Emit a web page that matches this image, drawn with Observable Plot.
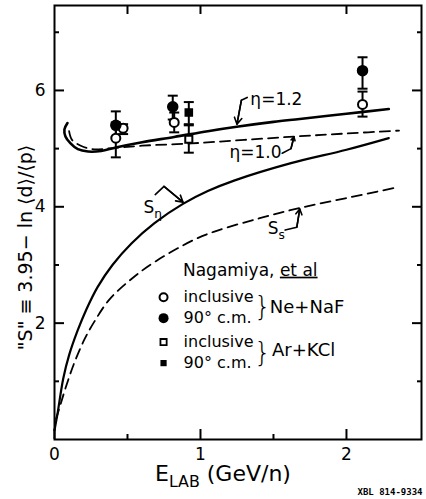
<!DOCTYPE html>
<html><head><meta charset="utf-8">
<script src="https://cdn.jsdelivr.net/npm/d3@7"></script>
<script src="https://cdn.jsdelivr.net/npm/@observablehq/plot@0.6"></script>
<style>
body{margin:0;background:#fff;}
#chart{width:426px;height:499px;}
</style>
</head><body><div id="chart"></div>
<script>
// ---- curves: E_LAB (GeV/n) vs "S"
const eta12E = [0.089,0.068,0.075,0.11,0.16,0.23,0.32,0.42,0.6,0.82,1.05,1.26,1.5,1.68,2.0,2.29];
const eta12S = [5.44,5.33,5.21,5.09,4.99,4.95,4.96,5.02,5.11,5.2,5.3,5.38,5.46,5.51,5.6,5.68];
const eta10E = [0.1,0.12,0.18,0.26,0.4,0.6,0.94,1.3,1.66,2.0,2.36];
const eta10S = [5.3,5.15,5.05,4.99,5.01,5.05,5.09,5.15,5.21,5.26,5.31];
const sEtaE = [0,0.021,0.06,0.1,0.158,0.219,0.295,0.397,0.527,0.685,0.88,1.05,1.23,1.62,2.0,2.29];
const sEtaS = [0.16,0.45,1.05,1.45,1.87,2.24,2.62,3.0,3.37,3.72,4.05,4.27,4.45,4.75,4.98,5.18];
const sSE = [0.01,0.041,0.075,0.133,0.205,0.274,0.377,0.527,0.685,0.945,1.09,1.4,1.68,2.0,2.34];
const sSS = [0.35,0.6,0.88,1.3,1.72,2.03,2.41,2.76,3.05,3.42,3.57,3.8,3.98,4.15,4.33];

// ---- data points (Nagamiya et al)
const neInclE = [0.42,0.47,0.82,2.11];
const neInclS = [5.18,5.35,5.45,5.76];
const neInclLo = [4.85,5.25,5.28,5.55];
const neInclHi = [5.45,5.42,5.62,5.98];
const ne90E = [0.42,0.81,2.11];
const ne90S = [5.40,5.72,6.34];
const ne90Lo = [5.2,5.5,6.03];
const ne90Hi = [5.64,5.91,6.57];
const arInclE = [0.92];
const arInclS = [5.16];
const arInclLo = [4.93];
const arInclHi = [5.40];
const ar90E = [0.92];
const ar90S = [5.62];
const ar90Lo = [5.42];
const ar90Hi = [5.80];

// ---- ticks
const xMajor = [0,1,2];
const xMinor = [0.5,1.5];
const xTop = [0.5,1,2];
const yMajor = [2,4,6];
const yMinor = [1,3,5,7];

// ---- annotation leaders (data coords)
const leadEta12 = [[1.32,5.88],[1.28,5.83],[1.25,5.42]];
const leadEta10 = [[1.56,4.92],[1.62,5.0],[1.64,5.2]];
const leadSEta = [[0.69,4.21],[0.75,4.35],[0.88,4.08]];
const leadSS = [[1.58,3.6],[1.66,3.65],[1.68,3.96]];

const curve = (E,S) => E.map((e,i)=>({E:e,S:S[i]}));
const pts = (E,S,lo,hi) => E.map((e,i)=>({E:e,S:S[i],lo:lo[i],hi:hi[i]}));
const eta12 = curve(eta12E,eta12S), eta10 = curve(eta10E,eta10S);
const sEta = curve(sEtaE,sEtaS), sS = curve(sSE,sSS);
const neIncl = pts(neInclE,neInclS,neInclLo,neInclHi);
const ne90 = pts(ne90E,ne90S,ne90Lo,ne90Hi);
const arIncl = pts(arInclE,arInclS,arInclLo,arInclHi);
const ar90 = pts(ar90E,ar90S,ar90Lo,ar90Hi);
const allPts = [...neIncl,...ne90,...arIncl,...ar90];
const leaders = [leadEta12,leadEta10,leadSEta,leadSS];
const leaderRows = leaders.flatMap((p,id)=>p.map(([E,S])=>({id,E,S})));
const heads = leaders.map(p=>{const a=p[p.length-2],b=p[p.length-1];return {x1:a[0],y1:a[1],x2:b[0],y2:b[1]};});

const cap = {draw(ctx,size){const r=Math.sqrt(size/Math.PI);ctx.moveTo(-r,0);ctx.lineTo(r,0);}};
const F = "DejaVu Sans";
const noText = () => "";
const intFmt = d => String(d);

const plot = Plot.plot({
  width: 426, height: 499,
  marginLeft: 54, marginRight: 5, marginTop: 5, marginBottom: 60,
  x: {domain: [0, 2.514], axis: null},
  y: {domain: [0, 7.46], axis: null},
  style: {fontFamily: F, fontSize: "16px", background: "white", color: "black"},
  marks: [
    Plot.frame({strokeWidth: 2}),
    // inward ticks
    Plot.axisY(yMajor, {anchor:"left", tickSize:10, dx:10, tickFormat:noText, label:null, strokeWidth:2}),
    Plot.axisY(yMinor, {anchor:"left", tickSize:5, dx:5, tickFormat:noText, label:null, strokeWidth:2}),
    Plot.axisY(yMajor, {anchor:"right", tickSize:10, dx:-10, tickFormat:noText, label:null, strokeWidth:2}),
    Plot.axisY(yMinor, {anchor:"right", tickSize:5, dx:-5, tickFormat:noText, label:null, strokeWidth:2}),
    Plot.axisX(xMajor, {anchor:"bottom", tickSize:10, dy:-10, tickFormat:noText, label:null, strokeWidth:2}),
    Plot.axisX(xMinor, {anchor:"bottom", tickSize:5, dy:-5, tickFormat:noText, label:null, strokeWidth:2}),
    Plot.axisX(xTop, {anchor:"top", tickSize:8, dy:8, tickFormat:noText, label:null, strokeWidth:2}),
    // tick labels
    Plot.axisY(yMajor, {anchor:"left", tickSize:0, tickPadding:9, label:null, fontSize:17, tickFormat:intFmt}),
    Plot.axisX(xMajor, {anchor:"bottom", tickSize:0, tickPadding:8, label:null, fontSize:17, tickFormat:intFmt}),
    // curves
    Plot.line(eta12, {x:"E", y:"S", strokeWidth:2.6, curve:"catmull-rom"}),
    Plot.line(eta10, {x:"E", y:"S", strokeWidth:1.8, strokeDasharray:"10,6", curve:"catmull-rom"}),
    Plot.line(sEta, {x:"E", y:"S", strokeWidth:2.2, curve:"catmull-rom"}),
    Plot.line(sS, {x:"E", y:"S", strokeWidth:1.8, strokeDasharray:"10,6", curve:"catmull-rom"}),
    // error bars
    Plot.ruleX(allPts, {x:"E", y1:"lo", y2:"hi", strokeWidth:2}),
    Plot.dot(allPts, {x:"E", y:"lo", symbol:cap, r:5, stroke:"black", strokeWidth:2}),
    Plot.dot(allPts, {x:"E", y:"hi", symbol:cap, r:5, stroke:"black", strokeWidth:2}),
    // markers
    Plot.dot(neIncl, {x:"E", y:"S", r:4.5, fill:"white", stroke:"black", strokeWidth:2}),
    Plot.dot(ne90, {x:"E", y:"S", r:5, fill:"black", stroke:"black"}),
    Plot.dot(arIncl, {x:"E", y:"S", symbol:"square", r:4, fill:"white", stroke:"black", strokeWidth:2}),
    Plot.dot(ar90, {x:"E", y:"S", symbol:"square", r:4, fill:"black", stroke:"black"}),
    // annotation leaders
    Plot.line(leaderRows, {x:"E", y:"S", z:"id", strokeWidth:1.6}),
    Plot.arrow(heads, {x1:"x1", y1:"y1", x2:"x2", y2:"y2", headLength:7, strokeWidth:1.6}),
    Plot.text(["η=1.2"], {x:1.52, y:5.85, fontSize:17, textAnchor:"middle"}),
    Plot.text(["η=1.0"], {x:1.377, y:4.94, fontSize:17, textAnchor:"middle"}),
    Plot.text(["S_{η}"], {x:0.61, y:3.99, fontSize:17, textAnchor:"start"}),
    Plot.text(["S_{s}"], {x:1.46, y:3.63, fontSize:17, textAnchor:"start"}),
    // legend
    Plot.text(["Nagamiya, ~{et al}"], {x:0.88, y:2.91, fontSize:17, textAnchor:"start"}),
    Plot.dot([0], {x:0.747, y:2.446, r:4, fill:"white", stroke:"black", strokeWidth:2}),
    Plot.dot([0], {x:0.747, y:2.086, r:5, fill:"black"}),
    Plot.dot([0], {x:0.747, y:1.674, symbol:"square", r:3.5, fill:"white", stroke:"black", strokeWidth:1.8}),
    Plot.dot([0], {x:0.747, y:1.313, symbol:"square", r:3.5, fill:"black"}),
    Plot.text(["inclusive"], {x:0.884, y:2.446, fontSize:16, textAnchor:"start"}),
    Plot.text(["90° c.m."], {x:0.884, y:2.086, fontSize:16, textAnchor:"start"}),
    Plot.text(["inclusive"], {x:0.884, y:1.674, fontSize:16, textAnchor:"start"}),
    Plot.text(["90° c.m."], {x:0.884, y:1.313, fontSize:16, textAnchor:"start"}),
    Plot.text(["}"], {x:1.425, y:2.275, fontSize:26, fontWeight:200, textAnchor:"middle"}),
    Plot.text(["}"], {x:1.425, y:1.50, fontSize:26, fontWeight:200, textAnchor:"middle"}),
    Plot.text(["Ne+NaF"], {x:1.475, y:2.275, fontSize:18, textAnchor:"start"}),
    Plot.text(["Ar+KCl"], {x:1.49, y:1.536, fontSize:18, textAnchor:"start"}),
    // axis titles
    Plot.text(["\"S\" ≡ 3.95− ln ⟨d⟩/⟨p⟩"], {frameAnchor:"left", rotate:-90, dx:-29, dy:25, fontSize:19, textAnchor:"middle"}),
    Plot.text(["E_{LAB} (GeV/n)"], {frameAnchor:"bottom", dx:-83, dy:41, fontSize:22, textAnchor:"start"}),
    Plot.text(["XBL 814-9334"], {frameAnchor:"bottom-right", dx:1, dy:55, fontSize:9, fontWeight:"bold", fontFamily:"DejaVu Sans Mono", textAnchor:"end"})
  ]
});
document.getElementById("chart").appendChild(plot);

// rich text: _{sub}, ~{underline}
d3.select(plot).selectAll("text").each(function(){
  const t = this.textContent;
  if (!/[_~]\{/.test(t)) return;
  const fs = parseFloat(getComputedStyle(this).fontSize) || 16;
  const sel = d3.select(this);
  sel.text(null);
  const parts = t.split(/([_~]\{[^}]*\})/);
  let shifted = 0;
  for (const p of parts) {
    if (!p) continue;
    const m = p.match(/^([_~])\{([^}]*)\}$/);
    if (m && m[1] === "_") {
      const d = 0.3*fs;
      sel.append("tspan").attr("dy", d - shifted).attr("font-size", (0.72*fs)+"px").text(m[2]);
      shifted = d;
    } else if (m && m[1] === "~") {
      sel.append("tspan").attr("dy", -shifted).attr("text-decoration","underline").text(m[2]);
      shifted = 0;
    } else {
      sel.append("tspan").attr("dy", -shifted).text(p);
      shifted = 0;
    }
  }
});
</script>
</body></html>
